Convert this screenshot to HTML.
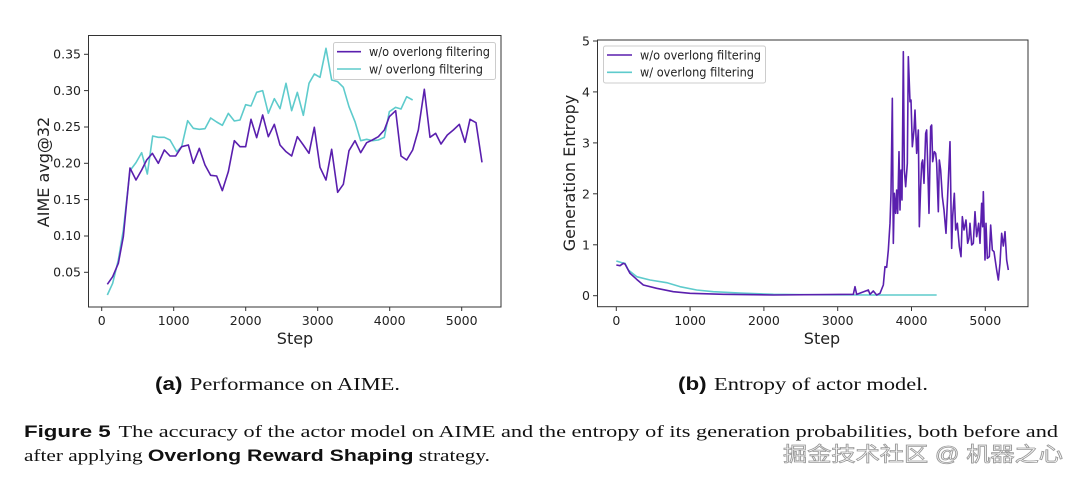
<!DOCTYPE html>
<html><head><meta charset="utf-8"><style>
html,body{margin:0;padding:0;background:#fff;}
svg{display:block;}
.t{font-family:"DejaVu Sans","Liberation Sans",sans-serif;fill:#222;}
.s{font-family:"Liberation Serif",serif;fill:#111;}
.b{font-family:"Liberation Sans",sans-serif;font-weight:bold;fill:#111;}
polyline{fill:none;vector-effect:non-scaling-stroke;stroke-width:1.6;stroke-linejoin:round;}
.p{stroke:#5a1fae;}
.c{stroke:#5ecbcc;}
</style></head><body>
<svg width="1080" height="483" viewBox="0 0 1080 483" xmlns="http://www.w3.org/2000/svg">
<rect width="1080" height="483" fill="#fff"/>
<!-- Left plot -->
<g transform="translate(0,30) scale(0.33333)">
<polyline class="c" points="322,795 338,760 355,690 370,600 390,422 408,398 425,368 442,432 458,318 475,322 493,322 510,330 530,365 545,350 563,272 580,295 598,298 615,296 632,264 650,276 667,286 685,250 703,273 720,270 737,224 753,228 770,187 788,182 805,250 823,206 840,236 858,160 875,242 892,187 910,256 927,160 943,132 960,142 978,55 995,150 1013,155 1030,172 1047,230 1065,275 1082,332 1100,328 1117,332 1135,330 1153,322 1168,245 1187,232 1203,237 1220,200 1238,210"/>
<polyline class="p" points="322,763 338,740 355,700 370,620 390,414 408,450 425,420 440,390 457,370 475,400 493,360 510,378 527,378 545,350 565,345 580,400 598,355 615,405 632,436 650,438 667,482 685,425 703,332 720,350 737,350 753,268 770,323 788,255 805,320 823,283 840,345 858,365 875,378 892,320 910,345 927,370 943,292 960,412 978,450 995,358 1013,487 1030,463 1047,362 1065,332 1082,368 1100,338 1117,330 1135,320 1153,300 1168,260 1187,242 1203,378 1220,390 1238,360 1255,300 1273,178 1290,322 1307,310 1323,342 1342,315 1360,300 1378,283 1395,337 1410,268 1428,278 1446,397"/>
</g>
<rect x="88.5" y="35.5" width="412.5" height="271.5" fill="none" stroke="#333" stroke-width="1"/>
<g stroke="#333" stroke-width="1">
<line x1="101.7" y1="307" x2="101.7" y2="311"/><line x1="173.7" y1="307" x2="173.7" y2="311"/><line x1="245.7" y1="307" x2="245.7" y2="311"/><line x1="317.7" y1="307" x2="317.7" y2="311"/><line x1="389.7" y1="307" x2="389.7" y2="311"/><line x1="461.7" y1="307" x2="461.7" y2="311"/>
<line x1="84" y1="54.3" x2="88.5" y2="54.3"/><line x1="84" y1="90.6" x2="88.5" y2="90.6"/><line x1="84" y1="127" x2="88.5" y2="127"/><line x1="84" y1="163.3" x2="88.5" y2="163.3"/><line x1="84" y1="199.6" x2="88.5" y2="199.6"/><line x1="84" y1="236" x2="88.5" y2="236"/><line x1="84" y1="272.3" x2="88.5" y2="272.3"/>
</g>
<g class="t" font-size="12.5" text-anchor="end">
<text x="81" y="58.5">0.35</text><text x="81" y="94.8">0.30</text><text x="81" y="131.2">0.25</text><text x="81" y="167.5">0.20</text><text x="81" y="203.8">0.15</text><text x="81" y="240.2">0.10</text><text x="81" y="276.5">0.05</text>
</g>
<g class="t" font-size="12.5" text-anchor="middle">
<text x="101.7" y="325">0</text><text x="173.7" y="325">1000</text><text x="245.7" y="325">2000</text><text x="317.7" y="325">3000</text><text x="389.7" y="325">4000</text><text x="461.7" y="325">5000</text>
</g>
<text class="t" font-size="16" x="295" y="344" text-anchor="middle">Step</text>
<text class="t" font-size="16" transform="translate(49,172) rotate(-90)" text-anchor="middle">AIME avg@32</text>
<rect x="333.5" y="42.5" width="162" height="37" fill="#fff" stroke="#ccc" rx="2"/>
<line x1="337" y1="51.7" x2="361" y2="51.7" class="p" stroke-width="1.6"/>
<line x1="337" y1="69" x2="361" y2="69" class="c" stroke-width="1.6"/>
<text class="t" font-size="12" x="369" y="56" textLength="121" lengthAdjust="spacingAndGlyphs">w/o overlong filtering</text>
<text class="t" font-size="12" x="369" y="73.3" textLength="114" lengthAdjust="spacingAndGlyphs">w/ overlong filtering</text>

<!-- Right plot -->
<g transform="translate(540,30) scale(0.33333)">
<polyline class="c" points="229,693 245,698 255,700 265,720 290,740 330,750 380,758 420,770 470,780 520,785 600,789 700,793 800,794 1000,795 1190,795"/>
<polyline class="p" points="229,705 240,707 250,700 255,702 270,730 290,748 310,765 350,775 400,785 450,790 550,793 700,795 940,793 945,770 950,793 985,780 990,793 1000,783 1010,795 1020,790 1030,765 1035,710 1040,712 1045,660 1050,580 1053,490 1057,205 1060,640 1063,490 1067,550 1070,480 1073,550 1077,365 1080,540 1083,420 1086,510 1090,65 1093,420 1097,470 1102,400 1105,80 1110,215 1113,210 1117,350 1122,300 1125,240 1130,370 1135,300 1138,590 1142,470 1145,400 1148,390 1152,460 1157,310 1160,300 1163,400 1167,550 1172,290 1175,285 1178,395 1183,365 1187,370 1190,400 1195,545 1198,390 1202,420 1207,500 1212,540 1218,610 1225,450 1230,335 1235,655 1238,560 1243,490 1247,600 1252,580 1258,650 1263,680 1267,560 1272,600 1278,570 1283,640 1287,625 1290,580 1295,645 1300,640 1305,545 1310,620 1316,580 1320,640 1325,520 1328,590 1330,485 1335,690 1338,580 1342,685 1348,680 1352,585 1357,660 1362,665 1370,720 1375,750 1380,700 1385,610 1390,648 1395,605 1400,690 1405,720"/>
</g>
<rect x="597.5" y="40" width="430.5" height="266.7" fill="none" stroke="#333" stroke-width="1"/>
<g stroke="#333" stroke-width="1">
<line x1="616.3" y1="306.7" x2="616.3" y2="311"/><line x1="690.1" y1="306.7" x2="690.1" y2="311"/><line x1="763.9" y1="306.7" x2="763.9" y2="311"/><line x1="837.7" y1="306.7" x2="837.7" y2="311"/><line x1="911.5" y1="306.7" x2="911.5" y2="311"/><line x1="985.3" y1="306.7" x2="985.3" y2="311"/>
<line x1="593" y1="41" x2="597.5" y2="41"/><line x1="593" y1="91.9" x2="597.5" y2="91.9"/><line x1="593" y1="142.9" x2="597.5" y2="142.9"/><line x1="593" y1="193.8" x2="597.5" y2="193.8"/><line x1="593" y1="244.8" x2="597.5" y2="244.8"/><line x1="593" y1="295.7" x2="597.5" y2="295.7"/>
</g>
<g class="t" font-size="12.5" text-anchor="end">
<text x="590" y="45.5">5</text><text x="590" y="96.4">4</text><text x="590" y="147.4">3</text><text x="590" y="198.3">2</text><text x="590" y="249.3">1</text><text x="590" y="300.2">0</text>
</g>
<g class="t" font-size="12.5" text-anchor="middle">
<text x="616.3" y="325">0</text><text x="690.1" y="325">1000</text><text x="763.9" y="325">2000</text><text x="837.7" y="325">3000</text><text x="911.5" y="325">4000</text><text x="985.3" y="325">5000</text>
</g>
<text class="t" font-size="16" x="822" y="344" text-anchor="middle">Step</text>
<text class="t" font-size="16" transform="translate(575,173) rotate(-90)" text-anchor="middle">Generation Entropy</text>
<rect x="603.5" y="46" width="162" height="37" fill="#fff" stroke="#ccc" rx="2"/>
<line x1="607" y1="55" x2="632" y2="55" class="p" stroke-width="1.6"/>
<line x1="607" y1="72.3" x2="632" y2="72.3" class="c" stroke-width="1.6"/>
<text class="t" font-size="12" x="640" y="59.3" textLength="121" lengthAdjust="spacingAndGlyphs">w/o overlong filtering</text>
<text class="t" font-size="12" x="640" y="76.6" textLength="114" lengthAdjust="spacingAndGlyphs">w/ overlong filtering</text>

<!-- captions -->
<text x="155" y="390" font-size="18" textLength="245" lengthAdjust="spacingAndGlyphs"><tspan class="b">(a)</tspan><tspan class="s" dx="6">Performance on AIME.</tspan></text>
<text x="678" y="390" font-size="18" textLength="250" lengthAdjust="spacingAndGlyphs"><tspan class="b">(b)</tspan><tspan class="s" dx="6">Entropy of actor model.</tspan></text>
<text x="24" y="437" font-size="17" textLength="1034" lengthAdjust="spacingAndGlyphs"><tspan class="b">Figure 5</tspan><tspan class="s" dx="6">The accuracy of the actor model on AIME and the entropy of its generation probabilities, both before and</tspan></text>
<text x="24" y="461" font-size="17" textLength="466" lengthAdjust="spacingAndGlyphs"><tspan class="s">after applying </tspan><tspan class="b">Overlong Reward Shaping</tspan><tspan class="s"> strategy.</tspan></text>
<text x="783" y="461" font-size="20" fill="#fff" stroke="#999" stroke-width="0.8" font-family="'Liberation Sans','Noto Sans CJK SC',sans-serif" textLength="280" lengthAdjust="spacingAndGlyphs">掘金技术社区 @ 机器之心</text>
</svg>
</body></html>
